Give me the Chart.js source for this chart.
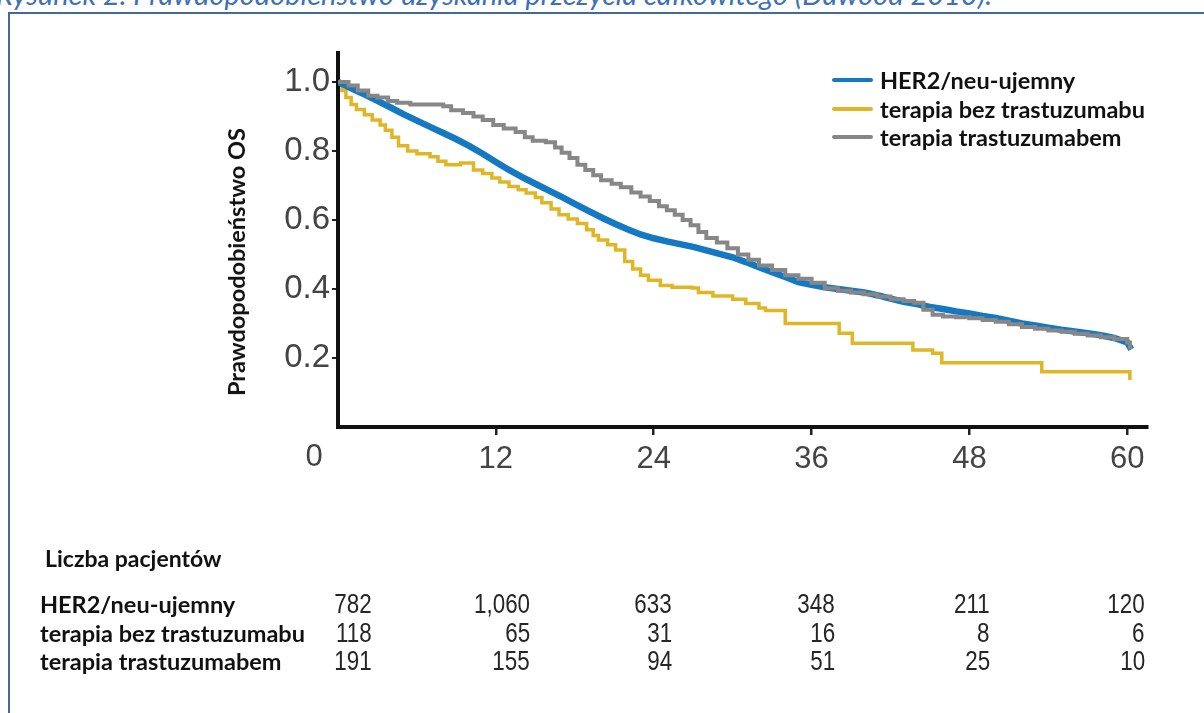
<!DOCTYPE html>
<html><head><meta charset="utf-8">
<script src="https://cdn.jsdelivr.net/npm/chart.js@4.4.0/dist/chart.umd.min.js"></script>
<style>
html,body{margin:0;padding:0;background:#fff;width:1204px;height:713px;overflow:hidden;position:relative;font-family:Lato,"Open Sans",sans-serif;}
#cap{position:absolute;left:-4px;top:-24px;font-style:italic;font-size:29px;color:#3d71b5;white-space:nowrap;}
#frame{position:absolute;left:8px;top:12px;width:1300px;height:800px;border-left:2px solid #42699c;border-top:2px solid #42699c;}
#chart{position:absolute;left:0;top:0;}
#ytitle{position:absolute;left:236px;top:262px;transform:translate(-50%,-50%) rotate(-90deg);font-weight:bold;font-size:23.5px;color:#111;white-space:nowrap;}
#legend{position:absolute;left:832px;top:66px;}
.lg{height:28.5px;display:flex;align-items:center;font-weight:bold;font-size:23.5px;color:#111;white-space:nowrap;}
.lg span.ln{display:inline-block;width:41px;height:4px;margin-right:7px;border-radius:2px;}
#risk{position:absolute;left:0;top:0;width:1204px;height:713px;}
.rh{position:absolute;left:45px;top:558px;transform:translateY(-50%);font-weight:bold;font-size:23px;color:#111;white-space:nowrap;}
.rl{position:absolute;left:40px;font-weight:bold;font-size:23.5px;color:#111;white-space:nowrap;transform:translateY(-50%);}
.rn{position:absolute;font-family:"Liberation Sans",Arial,sans-serif;font-size:28px;color:#262626;white-space:nowrap;transform-origin:100% 50%;transform:translateY(-50%) scaleX(0.8);text-align:right;}
</style>
</head><body>
<div id="cap">Rysunek 2. Prawdopodobieństwo uzyskania przeżycia całkowitego (Dawood 2010).</div>
<div id="frame"></div>
<canvas id="chart" width="1204" height="713"></canvas>
<div id="ytitle">Prawdopodobieństwo OS</div>
<div id="legend"></div>
<div id="risk"></div>
<script>
// ---- data ----
const xTickValues = [0, 12, 24, 36, 48, 60];
const xTickLabels = ['0', '12', '24', '36', '48', '60'];
const yTickValues = [0.2, 0.4, 0.6, 0.8, 1.0];
const seriesNames = ['HER2/neu-ujemny', 'terapia bez trastuzumabu', 'terapia trastuzumabem'];
const seriesColors = ['#1479c2', '#e0b624', '#878787'];

const herMonths = [0,1,2,3,4,5,6,7,8,9,10,11,12,13,14,15,16,17,18,19,20,21,22,23,24,25,26,27,28,29,30,31,32,33,34,35,36,37,38,39,40,41,42,43,44,45,46,47,48,49,50,51,52,53,54,55,56,57,58,59,60,60.3];
const herSurv = [1.0,0.982,0.964,0.945,0.926,0.906,0.888,0.87,0.852,0.834,0.814,0.792,0.768,0.745,0.724,0.705,0.686,0.667,0.647,0.627,0.608,0.59,0.573,0.558,0.547,0.538,0.53,0.522,0.512,0.502,0.492,0.478,0.463,0.449,0.435,0.42,0.412,0.405,0.4,0.395,0.39,0.382,0.372,0.363,0.356,0.348,0.342,0.335,0.329,0.322,0.316,0.308,0.3,0.294,0.288,0.282,0.277,0.272,0.266,0.258,0.245,0.225];

const noTrMonths = [0,0.3,0.6,1,1.4,2,2.6,3.2,3.6,4.1,4.6,5.3,6,7,7.6,8.2,9.3,10.3,11,11.7,12.3,13,13.7,14.3,15,15.5,16.2,16.8,17.5,18.2,18.9,19.4,19.8,20.5,21.1,21.8,22.4,23,23.6,24.5,25.4,26.9,27.4,28.5,30,31,32,32.5,34,37.6,38.1,39.1,43.2,43.7,45.2,45.9,53.5,59.9,60.2];
const noTrSurv = [1.0,0.975,0.955,0.935,0.92,0.905,0.89,0.875,0.86,0.84,0.815,0.8,0.792,0.783,0.77,0.76,0.765,0.745,0.735,0.722,0.71,0.697,0.688,0.678,0.665,0.65,0.632,0.615,0.603,0.59,0.572,0.555,0.542,0.528,0.513,0.48,0.458,0.44,0.425,0.41,0.405,0.403,0.39,0.38,0.37,0.358,0.345,0.338,0.3,0.3,0.272,0.243,0.243,0.223,0.214,0.186,0.16,0.16,0.136];

const trMonths = [0,0.8,1.5,2.3,3,3.8,4.5,5.5,8,8.6,9.5,10.3,11,11.8,12.6,13.5,14.2,14.8,15.8,16.5,17,17.6,18.2,18.8,19.4,20,20.8,21.5,22.3,23,23.7,24.4,25,25.6,26.2,26.8,27.4,28,28.8,29.6,30.4,31.2,32,33,34,35,36,37,38,39,40,41,42,43,43.8,44.5,45.2,46,47,48,49,50,51,52,53,54,55,56,57,58,59,60,60.2];
const trSurv = [1.0,0.99,0.975,0.96,0.955,0.945,0.94,0.935,0.93,0.918,0.91,0.9,0.89,0.875,0.865,0.855,0.84,0.83,0.825,0.81,0.795,0.78,0.76,0.745,0.73,0.715,0.705,0.695,0.68,0.668,0.655,0.64,0.628,0.615,0.6,0.585,0.565,0.548,0.535,0.518,0.5,0.485,0.468,0.455,0.44,0.43,0.418,0.402,0.395,0.39,0.385,0.378,0.37,0.365,0.36,0.34,0.325,0.32,0.318,0.315,0.31,0.305,0.298,0.29,0.285,0.28,0.276,0.27,0.265,0.26,0.255,0.245,0.225];

const riskTitle = 'Liczba pacjentów';
const riskHer = [782, 1060, 633, 348, 211, 120];
const riskNoTr = [118, 65, 31, 16, 8, 6];
const riskTr = [191, 155, 94, 51, 25, 10];

// ---- build ----
function pts(xs, ys){ return xs.map((x,i)=>({x:x, y:ys[i]})); }

const zeroLabelPlugin = {
  id: 'zeroLabel',
  afterDraw(chart){
    const xs = chart.scales.x, ctx = chart.ctx;
    ctx.save();
    ctx.font = '31px "Liberation Sans", Arial, sans-serif';
    ctx.fillStyle = '#444';
    ctx.textAlign = 'center';
    ctx.textBaseline = 'top';
    ctx.fillText(xTickLabels[0], xs.getPixelForValue(xTickValues[0]) - 24, chart.chartArea.bottom + 15);
    ctx.restore();
  }
};

new Chart(document.getElementById('chart'), {
  type: 'line',
  data: {
    datasets: [
      {label: seriesNames[0], data: pts(herMonths, herSurv), borderColor: seriesColors[0], borderWidth: 6.5, stepped: false, pointRadius: 0, order: 2},
      {label: seriesNames[1], data: pts(noTrMonths, noTrSurv), borderColor: seriesColors[1], borderWidth: 3.5, stepped: true, pointRadius: 0, order: 3},
      {label: seriesNames[2], data: pts(trMonths, trSurv), borderColor: seriesColors[2], borderWidth: 4, stepped: true, pointRadius: 0, order: 1}
    ]
  },
  options: {
    responsive: false, animation: false, devicePixelRatio: 1,
    layout: {padding: {left: 0, top: 53, right: 57, bottom: 226}},
    plugins: {legend: {display: false}, tooltip: {enabled: false}},
    scales: {
      x: {
        type: 'linear', min: 0, max: 61.5,
        afterFit(s){ s.height = 60; },
        afterBuildTicks(s){ s.ticks = xTickValues.map(v=>({value:v})); },
        ticks: {includeBounds: false, autoSkip: false, maxRotation: 0, padding: 6, color: '#444',
          font: {family: '"Liberation Sans", Arial, sans-serif', size: 31},
          callback(v){ const i = xTickValues.indexOf(v); return i > 0 ? xTickLabels[i] : ''; }},
        grid: {drawOnChartArea: false, drawTicks: true, tickLength: 8, lineWidth: 2.5,
          color: (c)=> (c.tick && c.tick.value === 0) ? 'rgba(0,0,0,0)' : '#222'},
        border: {display: true, color: '#111', width: 4}
      },
      y: {
        type: 'linear', min: 0, max: 1.084,
        afterFit(s){ s.width = 338; },
        afterBuildTicks(s){ s.ticks = yTickValues.map(v=>({value:v})); },
        ticks: {includeBounds: false, padding: 2, color: '#444',
          font: {family: '"Liberation Sans", Arial, sans-serif', size: 33},
          callback(v){ return v.toFixed(1); }},
        grid: {drawOnChartArea: false, drawTicks: true, tickLength: 6, lineWidth: 2, color: '#222'},
        border: {display: true, color: '#111', width: 4}
      }
    }
  },
  plugins: [zeroLabelPlugin]
});

// legend
const lg = document.getElementById('legend');
seriesNames.forEach((n,i)=>{
  const d = document.createElement('div'); d.className = 'lg';
  d.innerHTML = '<span class="ln" style="background:'+seriesColors[i]+'"></span>' + n;
  lg.appendChild(d);
});

// at-risk table
const risk = document.getElementById('risk');
const rowsY = [604, 633, 661];
const colRight = [372, 530, 672, 835, 990, 1145];
const h = document.createElement('div'); h.className = 'rh'; h.textContent = riskTitle; risk.appendChild(h);
[riskHer, riskNoTr, riskTr].forEach((row, r)=>{
  const l = document.createElement('div'); l.className = 'rl'; l.style.top = rowsY[r] + 'px';
  l.textContent = seriesNames[r]; risk.appendChild(l);
  row.forEach((v, c)=>{
    const s = document.createElement('div'); s.className = 'rn';
    s.style.right = (1204 - colRight[c]) + 'px'; s.style.top = rowsY[r] + 'px';
    s.textContent = v.toLocaleString('en-US');
    risk.appendChild(s);
  });
});
</script>
</body></html>
